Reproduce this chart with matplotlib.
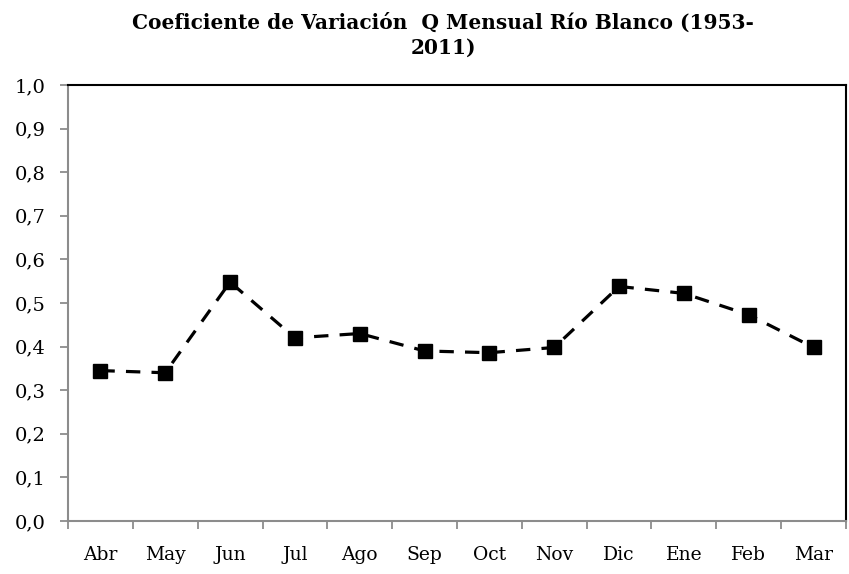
import matplotlib.pyplot as plt
import numpy as np

# Data
months = ['Abr', 'May', 'Jun', 'Jul', 'Ago', 'Sep', 'Oct', 'Nov', 'Dic', 'Ene', 'Feb', 'Mar']
cv = [0.345, 0.340, 0.548, 0.420, 0.430, 0.390, 0.386, 0.398, 0.538, 0.522, 0.473, 0.398]
yticks = [0.0, 0.1, 0.2, 0.3, 0.4, 0.5, 0.6, 0.7, 0.8, 0.9, 1.0]

plt.rcParams['font.family'] = ['DejaVu Serif']

fig = plt.figure(figsize=(8.49, 5.74), dpi=100)
ax = fig.add_axes([68 / 849, 53 / 574, 778 / 849, 436 / 574])

x = np.arange(len(months))
ax.plot(x, cv, color='black', linestyle=(0, (4.5, 3.5)), linewidth=2.3,
        marker='s', markersize=10.5, markerfacecolor='black', markeredgecolor='black')

ax.set_xlim(-0.5, len(months) - 0.5)
ax.set_ylim(0, 1.0)
ax.set_yticks(yticks)
ax.set_yticklabels([f"{v:.1f}".replace('.', ',') for v in yticks])
ax.set_xticks(x)
ax.set_xticklabels(months)
ax.set_xticks(np.arange(-0.5, len(months), 1.0), minor=True)

ax.tick_params(axis='x', which='major', length=0, pad=18, labelsize=13.5)
ax.tick_params(axis='x', which='minor', length=6, width=1.3, color='#8c8c8c')
ax.tick_params(axis='y', length=6, width=1.3, color='#8c8c8c', labelsize=14, pad=10)

for side in ['left', 'bottom']:
    ax.spines[side].set_color('#8c8c8c')
    ax.spines[side].set_linewidth(1.5)
for side in ['top', 'right']:
    ax.spines[side].set_color('black')
    ax.spines[side].set_linewidth(1.5)

fig.text(0.522, 0.978, "Coeficiente de Variación  Q Mensual Río Blanco (1953-\n2011)",
         ha='center', va='top', fontsize=14.5, fontweight='bold', linespacing=1.3)

fig.savefig("out.png", dpi=100)
